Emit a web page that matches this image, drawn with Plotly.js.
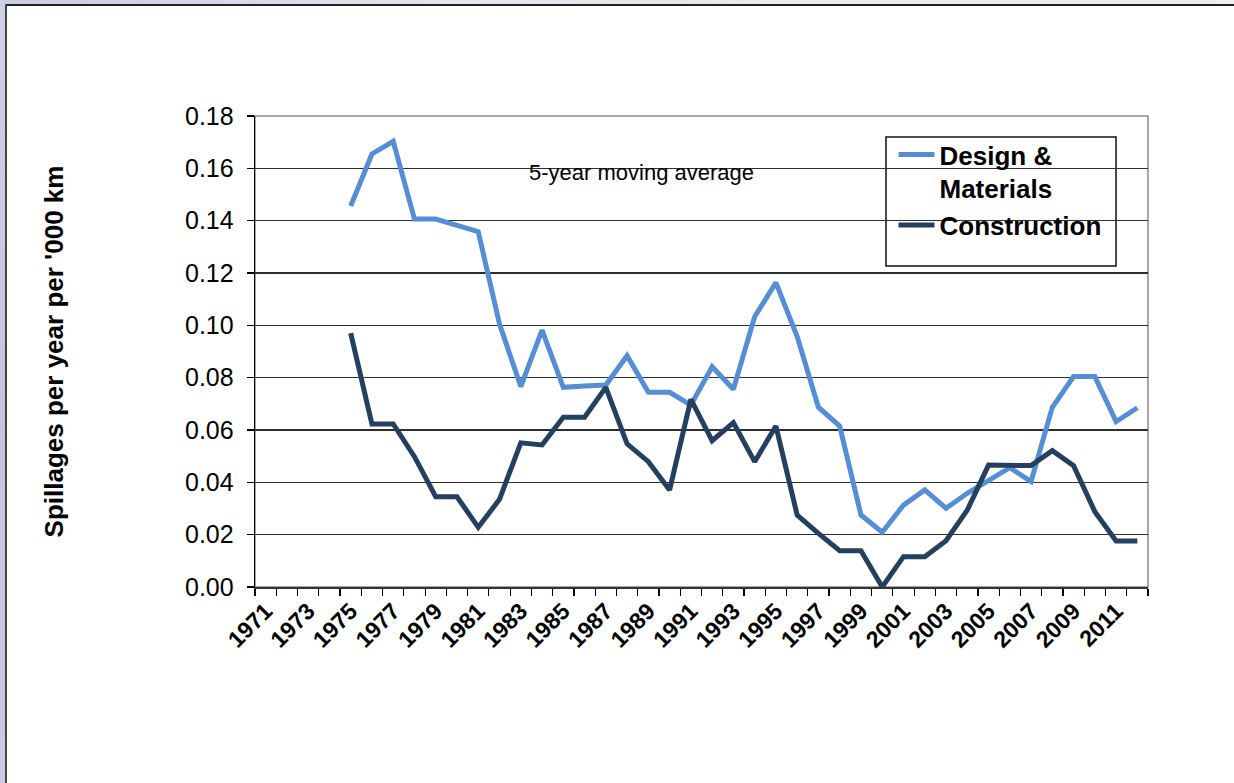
<!DOCTYPE html>
<html>
<head>
<meta charset="utf-8">
<script src="https://cdn.plot.ly/plotly-3.0.1.min.js"></script>
<style>
  html, body { margin: 0; padding: 0; background: #ffffff; }
  #wrap { position: relative; width: 1234px; height: 783px; overflow: hidden; }
  #chart { position: absolute; left: 0; top: 0; width: 1234px; height: 783px; }
  .fr { position: absolute; pointer-events: none; }
</style>
</head>
<body>
<div id="wrap">
  <div id="chart"></div>
  <div class="fr" style="left:0;top:0;width:1234px;height:4px;background:linear-gradient(to right,#c9cce2,#e6e7ee 40%,#eeeeef);"></div>
  <div class="fr" style="left:0;top:0;width:5px;height:783px;background:linear-gradient(to bottom,#cfd2e6,#c3c6de 50%,#c9cce0);"></div>
  <div class="fr" style="left:5px;top:4px;width:1229px;height:2px;background:#222;"></div>
  <div class="fr" style="left:5px;top:4px;width:2px;height:779px;background:#444;"></div>
</div>
<script>
// ---- data ----
const years = [1975,1976,1977,1978,1979,1980,1981,1982,1983,1984,1985,1986,1987,1988,1989,1990,1991,1992,1993,1994,1995,1996,1997,1998,1999,2000,2001,2002,2003,2004,2005,2006,2007,2008,2009,2010,2011,2012];
const designMaterials = [0.1456,0.1655,0.1703,0.1406,0.1406,0.1380,0.1358,0.1005,0.0766,0.0982,0.0763,0.0768,0.0772,0.0884,0.0744,0.0744,0.0695,0.0842,0.0756,0.1033,0.1163,0.0957,0.0687,0.0615,0.0275,0.0209,0.0313,0.0371,0.0301,0.0358,0.0409,0.0456,0.0403,0.0687,0.0804,0.0804,0.0632,0.0685];
const construction = [0.0970,0.0623,0.0623,0.0498,0.0345,0.0345,0.0228,0.0335,0.0551,0.0543,0.0649,0.0649,0.0763,0.0547,0.0479,0.0371,0.0717,0.0559,0.0628,0.0479,0.0615,0.0275,0.0205,0.0139,0.0139,0.0000,0.0116,0.0116,0.0177,0.0294,0.0466,0.0464,0.0464,0.0521,0.0464,0.0288,0.0176,0.0176];
const tickYears = [1971,1973,1975,1977,1979,1981,1983,1985,1987,1989,1991,1993,1995,1997,1999,2001,2003,2005,2007,2009,2011];
const tickLabels = ["1971","1973","1975","1977","1979","1981","1983","1985","1987","1989","1991","1993","1995","1997","1999","2001","2003","2005","2007","2009","2011"];
const seriesNames = ["Design &<br>Materials", "Construction"];
const yTitle = "Spillages per year per '000 km";
const noteText = "5-year moving average";

const FONT = "Liberation Sans, Arial, sans-serif";

const traces = [
  { x: years, y: designMaterials, name: seriesNames[0], type: 'scatter', mode: 'lines',
    line: { color: '#558ED5', width: 5 } },
  { x: years, y: construction, name: seriesNames[1], type: 'scatter', mode: 'lines',
    line: { color: '#243F60', width: 5 } }
];

const layout = {
  width: 1234, height: 783,
  margin: { l: 255, r: 86, t: 116, b: 196 },
  paper_bgcolor: '#ffffff', plot_bgcolor: '#ffffff',
  font: { family: FONT, color: '#000' },
  showlegend: true,
  legend: {
    x: 0.715, y: 0.968, xanchor: 'left', yanchor: 'top',
    bgcolor: 'rgba(0,0,0,0)', borderwidth: 0,
    font: { family: FONT, size: 26, weight: 'bold', color: '#000' },
    itemwidth: 36, valign: 'top', tracegroupgap: 0
  },
  xaxis: {
    type: 'linear', range: [1970.5, 2012.5],
    tickmode: 'array', tickvals: tickYears, ticktext: tickLabels,
    tickangle: -45, ticks: '', showgrid: false, zeroline: false,
    tickfont: { family: FONT, size: 23, weight: 'bold', color: '#000' },
    showline: true, linecolor: '#333', linewidth: 1.6,
    minor: { ticks: 'outside', ticklen: 7, tickcolor: '#000', tickwidth: 1.2, dtick: 1, tick0: 0.5, showgrid: false },
    fixedrange: true
  },
  yaxis: {
    range: [0, 0.18], dtick: 0.02, tick0: 0, tickformat: '.2f',
    ticks: 'outside', ticklen: 7, tickcolor: '#000', tickwidth: 1.2,
    showline: true, linecolor: '#000', linewidth: 1.3,
    showgrid: true, gridcolor: '#2e2e2e', gridwidth: 1.6, zeroline: false,
    tickfont: { family: FONT, size: 25, color: '#000' },
    ticklabelstandoff: 8,
    title: { text: yTitle, font: { family: FONT, size: 26, weight: 'bold', color: '#000' }, standoff: 114 },
    fixedrange: true
  },
  shapes: [
    { type: 'rect', xref: 'paper', yref: 'paper', x0: 0, x1: 1, y0: 0, y1: 1,
      line: { color: '#8a8a8a', width: 1.5 }, fillcolor: 'rgba(0,0,0,0)', layer: 'between' },
    { type: 'rect', xref: 'paper', yref: 'paper', x0: 0.2889, x1: 0.5957, y0: 0.845, y1: 0.93,
      line: { width: 0 }, fillcolor: '#ffffff', layer: 'between' },
    { type: 'rect', xref: 'paper', yref: 'paper', x0: 0.7066, x1: 0.9642, y0: 0.6815, y1: 0.9554,
      line: { color: '#111', width: 1.5 }, fillcolor: '#ffffff', layer: 'between' }
  ],
  annotations: [
    { xref: 'paper', yref: 'paper', x: 0.4323, y: 0.881, xanchor: 'center', yanchor: 'middle',
      text: noteText, showarrow: false, font: { family: FONT, size: 22, color: '#000' } }
  ]
};

Plotly.newPlot('chart', traces, layout, { displayModeBar: false, staticPlot: true });
</script>
</body>
</html>
